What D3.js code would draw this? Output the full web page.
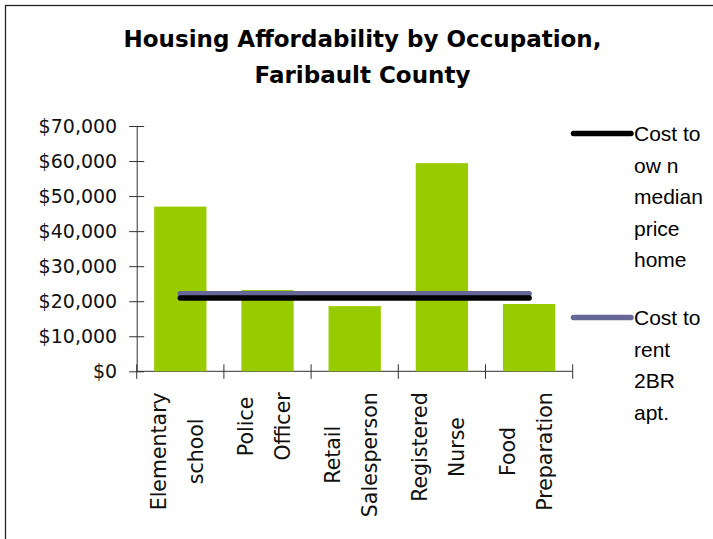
<!DOCTYPE html>
<html>
<head>
<meta charset="utf-8">
<script src="https://cdn.jsdelivr.net/npm/d3@7"></script>
<style>
  body { margin: 0; background: #fff; }
  svg { display: block; }
</style>
</head>
<body>
<div id="chart"></div>
<script>
// values
const categories = ['Elementary school', 'Police Officer', 'Retail Salesperson', 'Registered Nurse', 'Food Preparation']
const categoryLines = [['Elementary', 'school'], ['Police', 'Officer'], ['Retail', 'Salesperson'], ['Registered', 'Nurse'], ['Food', 'Preparation']]
const affordable = [47000, 23200, 18600, 59400, 19200]
const costToOwn = [20900, 20900, 20900, 20900, 20900]
const costToRent = [22100, 22100, 22100, 22100, 22100]
const yTicks = [0, 10000, 20000, 30000, 40000, 50000, 60000, 70000]
const titleLines = ['Housing Affordability by Occupation,', 'Faribault County']
const legendOwn = ['Cost to', 'ow n', 'median', 'price', 'home']
const legendRent = ['Cost to', 'rent', '2BR', 'apt.']

const W = 713
const H = 539
const plot = { left: 136.7, right: 572.7, top: 126, bottom: 371.3 }

const svg = d3.select('#chart')
  .append('svg')
  .attr('width', W)
  .attr('height', H)

// outer frame (only left and top visible in the picture)
svg.append('rect')
  .attr('x', 5.5)
  .attr('y', 5.5)
  .attr('width', 760)
  .attr('height', 600)
  .attr('fill', 'none')
  .attr('stroke', '#222')
  .attr('stroke-width', 1.3)

svg.append('g')
  .selectAll('text')
  .data(titleLines)
  .enter()
  .append('text')
  .attr('x', 362.5)
  .attr('y', (d, i) => 47 + i * 36)
  .attr('text-anchor', 'middle')
  .style('font-family', 'DejaVu Sans, sans-serif')
  .style('font-weight', 'bold')
  .style('font-size', '23px')
  .attr('fill', '#000')
  .text(d => d)

const x = d3.scaleBand()
  .domain(categories)
  .range([plot.left, plot.right])
  .padding(0)

const y = d3.scaleLinear()
  .domain([0, 70000])
  .range([plot.bottom, plot.top])

// y axis with ticks crossing the line
const yAxis = svg.append('g')
  .attr('transform', `translate(${plot.left}, 0)`)
  .call(d3.axisLeft(y).tickValues(yTicks).tickSize(7.5).tickSizeOuter(0).tickPadding(12)
    .tickFormat(d => '$' + d3.format(',')(d)))
yAxis.selectAll('.tick line').attr('x2', 7.5).attr('x1', -7.5)
yAxis.select('.domain').attr('stroke', '#333')
yAxis.selectAll('.tick line').attr('stroke', '#333')
yAxis.selectAll('text')
  .style('font-family', 'DejaVu Sans, sans-serif')
  .style('font-size', '19px')
  .attr('fill', '#111')
  .attr('x', -19.5)

// x axis, ticks at category boundaries
const boundaries = categories.map(c => x(c)).concat([plot.right])
svg.append('line')
  .attr('x1', plot.left)
  .attr('x2', plot.right)
  .attr('y1', y(0))
  .attr('y2', y(0))
  .attr('stroke', '#333')
svg.append('g')
  .selectAll('line')
  .data(boundaries)
  .enter()
  .append('line')
  .attr('x1', d => d)
  .attr('x2', d => d)
  .attr('y1', y(0) - 7)
  .attr('y2', y(0) + 7.5)
  .attr('stroke', '#333')

// bars
const barFrac = 0.6
svg.append('g')
  .selectAll('rect')
  .data(affordable)
  .enter()
  .append('rect')
  .attr('x', (d, i) => x(categories[i]) + x.bandwidth() * (1 - barFrac) / 2)
  .attr('y', d => y(d))
  .attr('width', x.bandwidth() * barFrac)
  .attr('height', d => y(0) - y(d))
  .attr('fill', '#99cc00')

// category labels, rotated, wrapped onto two lines
const labels = svg.append('g')
categoryLines.forEach((lines, i) => {
  const cx = x(categories[i]) + x.bandwidth() / 2
  const g = labels.append('g')
  const texts = lines.map((t, j) => g.append('text')
    .attr('text-anchor', 'middle')
    .style('font-family', 'DejaVu Sans, sans-serif')
    .style('font-size', '20.5px')
    .attr('fill', '#111')
    .text(t))
  const maxLen = d3.max(texts, t => t.node().getComputedTextLength())
  const yc = y(0) + 21 + maxLen / 2
  texts.forEach((t, j) => {
    t.attr('transform', `translate(${cx - 14.5 + j * 37}, ${yc}) rotate(-90)`)
  })
})

// lines
const line = d3.line()
  .x((d, i) => x(categories[i]) + x.bandwidth() / 2)
  .y(d => y(d))

svg.append('path')
  .datum(costToRent)
  .attr('d', line)
  .attr('fill', 'none')
  .attr('stroke', '#666699')
  .attr('stroke-width', 5.5)
  .attr('stroke-linecap', 'round')

svg.append('path')
  .datum(costToOwn)
  .attr('d', line)
  .attr('fill', 'none')
  .attr('stroke', '#000')
  .attr('stroke-width', 5.5)
  .attr('stroke-linecap', 'round')

// legend
const legend = [
  { lines: legendOwn, color: '#000', top: 141 },
  { lines: legendRent, color: '#666699', top: 325 }
]
legend.forEach(item => {
  svg.append('line')
    .attr('x1', 573.5)
    .attr('x2', 631)
    .attr('y1', item.top - 7.5)
    .attr('y2', item.top - 7.5)
    .attr('stroke', item.color)
    .attr('stroke-width', 5.5)
    .attr('stroke-linecap', 'round')
  svg.append('g')
    .selectAll('text')
    .data(item.lines)
    .enter()
    .append('text')
    .attr('x', 634)
    .attr('y', (d, i) => item.top + i * 31.6)
    .style('font-family', 'Liberation Sans, Arial, sans-serif')
    .style('font-size', '21px')
    .attr('fill', '#000')
    .text(d => d)
})
</script>
</body>
</html>
